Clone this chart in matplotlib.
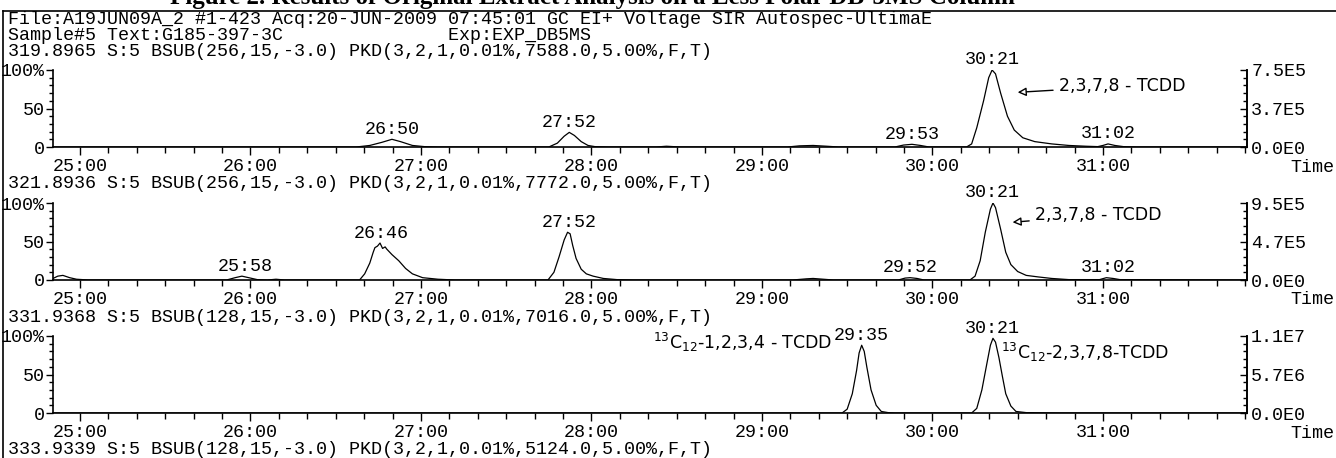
import matplotlib
matplotlib.use("Agg")
import matplotlib.pyplot as plt
from matplotlib.lines import Line2D
from matplotlib.ticker import MultipleLocator

W, H = 1336, 458

title = "Figure 2. Results of Original Extract Analysis on a Less Polar DB-5MS Column"
header_lines = [
    "File:A19JUN09A_2 #1-423 Acq:20-JUN-2009 07:45:01 GC EI+ Voltage SIR Autospec-UltimaE",
    "Sample#5 Text:G185-397-3C               Exp:EXP_DB5MS",
]
channel_labels = [
    "319.8965 S:5 BSUB(256,15,-3.0) PKD(3,2,1,0.01%,7588.0,5.00%,F,T)",
    "321.8936 S:5 BSUB(256,15,-3.0) PKD(3,2,1,0.01%,7772.0,5.00%,F,T)",
    "331.9368 S:5 BSUB(128,15,-3.0) PKD(3,2,1,0.01%,7016.0,5.00%,F,T)",
    "333.9339 S:5 BSUB(128,15,-3.0) PKD(3,2,1,0.01%,5124.0,5.00%,F,T)",
]

# time axis (minutes)
minutes = [25, 26, 27, 28, 29, 30, 31]
minute_labels = ["25:00", "26:00", "27:00", "28:00", "29:00", "30:00", "31:00"]

# traces: retention time (min) and relative intensity (%)
t1 = [24.84, 26.62, 26.70, 26.77, 26.83, 26.88, 26.95, 27.02, 27.10,
      27.75, 27.80, 27.84, 27.87, 27.90, 27.94, 27.98, 28.02, 28.10,
      28.38, 28.44, 28.52, 29.15, 29.22, 29.30, 29.38, 29.45,
      29.78, 29.83, 29.88, 29.93, 29.98,
      30.20, 30.23, 30.26, 30.30, 30.33, 30.35, 30.37, 30.40, 30.44, 30.48,
      30.53, 30.60, 30.70, 30.80, 30.90, 30.97,
      31.00, 31.03, 31.07, 31.12, 31.20, 31.845]
y1 = [0, 0, 2, 6, 10, 7, 2, 0.5, 0,
      0, 5, 14, 19, 15, 7, 2, 0.5, 0,
      0, 1, 0, 0, 1.5, 2, 1, 0,
      0, 2.5, 3.5, 2, 0,
      0, 4, 25, 60, 90, 100, 95, 70, 40, 22,
      12, 7, 4, 2, 1, 0.5,
      2, 4, 2, 0.5, 0, 0]

t2 = [24.842, 24.87, 24.90, 24.94, 24.98, 25.05,
      25.86, 25.91, 25.95, 25.99, 26.04, 26.10, 26.15, 26.20,
      26.64, 26.67, 26.70, 26.72, 26.73, 26.745, 26.76, 26.775, 26.79, 26.80,
      26.83, 26.87, 26.91, 26.95, 27.01, 27.10, 27.20,
      27.745, 27.78, 27.81, 27.84, 27.86, 27.875, 27.89, 27.91, 27.94, 27.97,
      28.01, 28.07, 28.15, 28.25,
      29.18, 29.26, 29.30, 29.36, 29.42,
      29.80, 29.84, 29.87, 29.91, 29.95,
      30.22, 30.25, 30.28, 30.31, 30.34, 30.355, 30.37, 30.40, 30.43, 30.46,
      30.50, 30.55, 30.62, 30.70, 30.80,
      30.98, 31.02, 31.06, 31.10, 31.845]
y2 = [2, 5, 6, 3, 1, 0,
      0, 3, 5, 3, 0.5, 0, 1, 0,
      0, 8, 22, 36, 42, 44, 48, 41, 43, 40,
      33, 25, 15, 8, 3, 1, 0,
      0, 10, 30, 52, 62, 60, 45, 28, 14, 8,
      5, 2, 0.5, 0,
      0, 1.5, 2, 1, 0,
      0, 2.5, 3, 2, 0,
      0, 5, 25, 62, 92, 100, 94, 66, 36, 20,
      11, 6, 4, 2, 0.5,
      0.5, 3, 2, 0.5, 0]

t3 = [24.842, 29.47, 29.50, 29.53, 29.555, 29.57, 29.585, 29.60, 29.615,
      29.64, 29.67, 29.70, 29.74, 29.78,
      30.23, 30.26, 30.29, 30.32, 30.34, 30.355, 30.37, 30.39, 30.41,
      30.43, 30.46, 30.49, 30.55, 30.75, 31.845]
y3 = [0, 0, 5, 25, 55, 78, 88, 80, 60,
      30, 10, 2, 0.5, 0,
      0, 6, 30, 65, 88, 97, 92, 72, 48,
      25, 9, 2, 0.5, 0, 0]

traces = [(t1, y1), (t2, y2), (t3, y3)]

# peak labels: (time, height %, text)
peaks = [
    [(26.833, 10, "26:50"), (27.867, 19, "27:52"), (29.883, 3.5, "29:53"),
     (30.35, 100, "30:21"), (31.033, 4, "31:02")],
    [(25.967, 5, "25:58"), (26.767, 48, "26:46"), (27.867, 62, "27:52"),
     (29.867, 3, "29:52"), (30.35, 100, "30:21"), (31.033, 3, "31:02")],
    [(29.583, 88, "29:35"), (30.35, 97, "30:21")],
]

right_labels = [
    ["0.0E0", "3.7E5", "7.5E5"],
    ["0.0E0", "4.7E5", "9.5E5"],
    ["0.0E0", "5.7E6", "1.1E7"],
]

mono = "Liberation Mono"
fs = 13.2

fig = plt.figure(figsize=(W / 100, H / 100), dpi=100)

def fy(ypx):
    return 1 - ypx / H

fig.text(170 / W, fy(4), title, ha="left", va="baseline",
         family="Liberation Serif", weight="bold", size=18)
fig.text(8 / W, fy(19), header_lines[0], family=mono, size=fs, va="center")
fig.text(8 / W, fy(35), header_lines[1], family=mono, size=fs, va="center")

bases = [147, 280, 413]
label_rows = [51, 184, 317, 450]
for row, lab in zip(label_rows, channel_labels):
    fig.text(8 / W, fy(row), lab, family=mono, size=fs, va="center")

axes = []
for i, base in enumerate(bases):
    ax = fig.add_axes([53 / W, fy(base), 1194 / W, 77 / H])
    axes.append(ax)
    t, y = traces[i]
    ax.plot(t, y, color="black", lw=0.9)
    ax.set_xlim(24.842, 31.845)
    ax.set_ylim(0, 100)
    ax.spines["top"].set_visible(False)
    for s in ["left", "bottom", "right"]:
        ax.spines[s].set_linewidth(1.2)

    ax.set_xticks(minutes)
    ax.set_xticklabels(minute_labels, family=mono, size=fs)
    ax.xaxis.set_minor_locator(MultipleLocator(1 / 6))
    ax.tick_params(axis="x", which="major", direction="out", length=6, width=1, pad=2)
    ax.tick_params(axis="x", which="minor", direction="out", length=4, width=1)

    ax.set_yticks([0, 50, 100])
    ax.set_yticklabels(["0", "50", "100%"], family=mono, size=fs)
    ax.yaxis.set_minor_locator(MultipleLocator(10))
    ax.tick_params(axis="y", which="both", direction="out", length=5, width=1, pad=1)
    ax.tick_params(axis="y", which="minor", length=3)

    ax2 = ax.twinx()
    ax2.set_ylim(0, 100)
    for s in ["top", "left", "bottom"]:
        ax2.spines[s].set_visible(False)
    ax2.spines["right"].set_linewidth(1.2)
    ax2.set_yticks([0, 50, 100])
    ax2.set_yticklabels(right_labels[i], family=mono, size=fs)
    ax2.yaxis.set_minor_locator(MultipleLocator(10))
    ax2.tick_params(axis="y", which="both", direction="in", length=5, width=1, pad=3)
    ax2.tick_params(axis="y", which="minor", length=3)

    for pt, ph, lab in peaks[i]:
        ax.text(pt, ph + 2, lab, ha="center", va="bottom", family=mono, size=fs)

    fig.text(1334 / W, fy(base + 20), "Time", ha="right", va="center",
             family=mono, size=fs)

# handwritten notes
hand = dict(family="DejaVu Sans", size=12.5, va="center")
axes[0].annotate("2,3,7,8 - TCDD", xy=(30.50, 71), xytext=(30.74, 79),
                 arrowprops=dict(arrowstyle="-|>", lw=1, color="black",
                                 fc="white", shrinkA=2, shrinkB=0), **hand)
axes[1].annotate("2,3,7,8 - TCDD", xy=(30.47, 75), xytext=(30.60, 84),
                 arrowprops=dict(arrowstyle="-|>", lw=1, color="black",
                                 fc="white", shrinkA=2, shrinkB=0), **hand)
axes[2].text(28.36, 92, "$^{13}$C$_{12}$-1,2,3,4 - TCDD", **hand)
axes[2].text(30.40, 78, "$^{13}$C$_{12}$-2,3,7,8-TCDD", **hand)

# page frame
fig.add_artist(Line2D([3 / W, 3 / W], [0, fy(11)], color="black", lw=1.2,
                      transform=fig.transFigure))
fig.add_artist(Line2D([3 / W, 1], [fy(11), fy(11)], color="black", lw=1.2,
                      transform=fig.transFigure))

fig.savefig("out.png", dpi=100)
